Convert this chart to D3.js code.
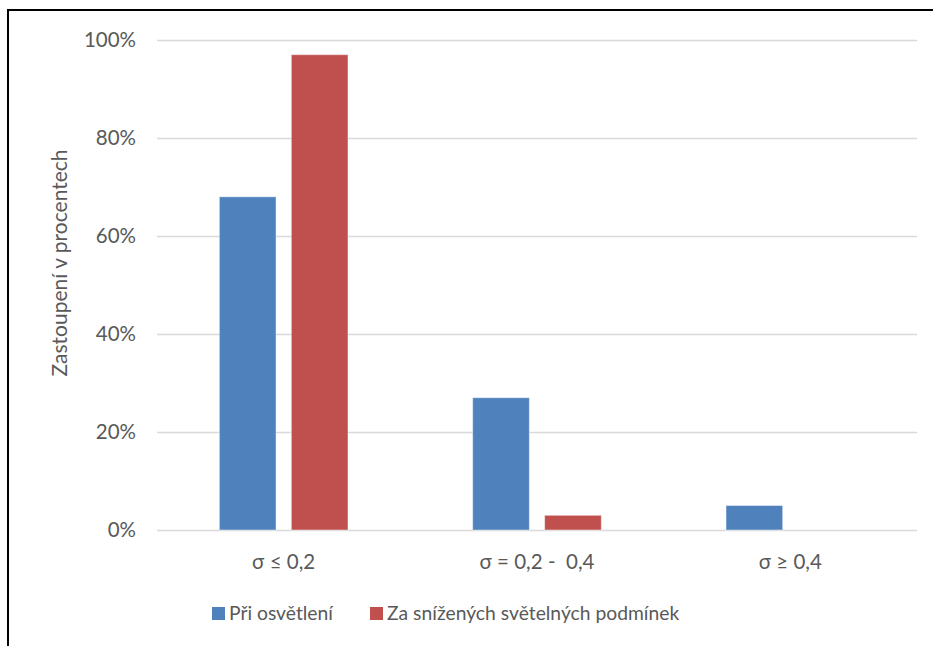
<!DOCTYPE html>
<html>
<head>
<meta charset="utf-8">
<script src="https://cdn.jsdelivr.net/npm/d3@7"></script>
<style>
  html, body { margin: 0; padding: 0; background: #fff; }
  svg { display: block; }
  text { font-family: Lato, "Open Sans", sans-serif; fill: #595959; }
</style>
</head>
<body>
<svg id="chart" width="933" height="646"></svg>
<script>
// Podíl hodnot σ podle světelných podmínek
const categories = ["σ ≤ 0,2", "σ = 0,2 -  0,4", "σ ≥ 0,4"];
const seriesNames = ["Při osvětlení", "Za snížených světelných podmínek"];
const litValues = [68, 27, 5];
const dimValues = [97, 3, 0];
const yTicks = [0, 20, 40, 60, 80, 100];
const yTitle = "Zastoupení v procentech";
const colors = ["#4F81BD", "#C0504D"];

const svg = d3.select("#chart");
const W = 933, H = 646;
const plot = { left: 157, right: 917, top: 40, bottom: 530 };

// frame
svg.append("rect")
  .attr("x", 8).attr("y", 10)
  .attr("width", W + 20).attr("height", H + 20)
  .attr("fill", "none").attr("stroke", "#000").attr("stroke-width", 2);

const x = d3.scaleBand().domain(categories).range([plot.left, plot.right]).paddingInner(0).paddingOuter(0);
const y = d3.scaleLinear().domain([0, 100]).range([plot.bottom, plot.top]);

// bar geometry inside each category: gap width 220 %, overlap -27 %
const bw = x.bandwidth() / (2 + 0.27 + 2.2);
const sub = d3.scaleOrdinal().domain([0, 1]).range([0, bw * 1.27]);
const groupOffset = (x.bandwidth() - (2 * bw + 0.27 * bw)) / 2;

// gridlines
const yAxis = d3.axisLeft(y).tickValues(yTicks).tickSize(-(plot.right - plot.left)).tickFormat(d => d + "%").tickPadding(21);
const gy = svg.append("g").attr("transform", `translate(${plot.left},0)`).call(yAxis);
gy.select(".domain").remove();
gy.selectAll(".tick line").attr("stroke", "#D9D9D9").attr("stroke-width", 1.5);
gy.selectAll(".tick text").attr("font-size", 20.5).attr("fill", "#595959")
  .style("font-family", "Lato, sans-serif");

// bars
const series = [litValues, dimValues];
series.forEach((vals, si) => {
  svg.append("g").selectAll("rect")
    .data(vals.map((v, i) => ({ cat: categories[i], v })))
    .join("rect")
    .filter(d => d.v > 0)
    .attr("x", d => x(d.cat) + groupOffset + sub(si))
    .attr("y", d => y(d.v))
    .attr("width", bw)
    .attr("height", d => y(0) - y(d.v))
    .attr("fill", colors[si])
    .attr("stroke", "#ffffff").attr("stroke-opacity", 0.45).attr("stroke-width", 1);
});

// category labels
const xAxis = d3.axisBottom(x).tickSize(0).tickPadding(24);
const gx = svg.append("g").attr("transform", `translate(0,${plot.bottom})`).call(xAxis);
gx.select(".domain").remove();
gx.selectAll(".tick text").attr("font-size", 20.5).attr("fill", "#595959")
  .style("font-family", "Lato, sans-serif").style("white-space", "pre");

// y title
svg.append("text")
  .attr("transform", "translate(67,263) rotate(-90)")
  .attr("text-anchor", "middle")
  .attr("font-size", 21)
  .text(yTitle);

// legend
const legendX = [212, 370];
const lg = svg.append("g");
seriesNames.forEach((name, i) => {
  lg.append("rect").attr("x", legendX[i]).attr("y", 607).attr("width", 13).attr("height", 13).attr("fill", colors[i]);
  lg.append("text").attr("x", legendX[i] + 17).attr("y", 620).attr("font-size", 19.3).text(name);
});
</script>
</body>
</html>
